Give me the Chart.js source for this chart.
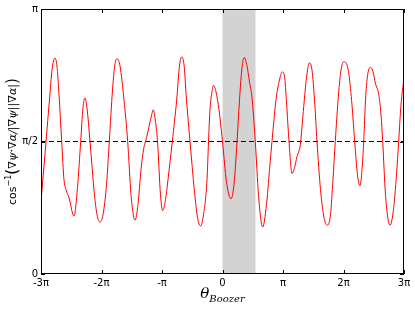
<!DOCTYPE html>
<html>
<head>
<meta charset="utf-8">
<script src="https://cdn.jsdelivr.net/npm/chart.js@4/dist/chart.umd.min.js"></script>
<style>
  html, body { margin: 0; padding: 0; background: #fff; }
  #chart { display: block; }
</style>
</head>
<body>
<canvas id="chart" width="415" height="310"></canvas>
<script>
// theta_Boozer, in units of pi
const theta = [
  -3.000, -2.917, -2.860, -2.818, -2.769, -2.736, -2.702, -2.658, -2.620, -2.587,
  -2.537, -2.455, -2.397, -2.344, -2.306, -2.273, -2.240, -2.190, -2.116, -2.074,
  -2.025, -1.975, -1.917, -1.871, -1.818, -1.777, -1.739, -1.694, -1.628, -1.567,
  -1.512, -1.446, -1.397, -1.347, -1.306, -1.256, -1.174, -1.144, -1.116, -1.074,
  -1.025, -0.988, -0.942, -0.901, -0.830, -0.757, -0.711, -0.674, -0.636, -0.595,
  -0.537, -0.466, -0.413, -0.364, -0.314, -0.256, -0.231, -0.207, -0.174, -0.149,
  -0.107, -0.058, 0.000, 0.066, 0.140, 0.190, 0.240, 0.281, 0.322, 0.360,
  0.405, 0.446, 0.488, 0.542, 0.595, 0.664, 0.727, 0.777, 0.818, 0.884,
  0.950, 0.988, 1.028, 1.066, 1.099, 1.149, 1.190, 1.231, 1.286, 1.342,
  1.388, 1.435, 1.479, 1.521, 1.562, 1.620, 1.678, 1.732, 1.785, 1.826,
  1.864, 1.917, 1.959, 2.008, 2.058, 2.091, 2.140, 2.185, 2.231, 2.273,
  2.306, 2.334, 2.364, 2.397, 2.450, 2.488, 2.526, 2.587, 2.620, 2.648,
  2.694, 2.769, 2.826, 2.876, 2.912, 2.950, 3.000
];

// arccos(grad psi . grad alpha / |grad psi||grad alpha|), in units of pi
const angle = [
  0.273, 0.500, 0.657, 0.770, 0.815, 0.785, 0.676, 0.500, 0.356, 0.318,
  0.288, 0.218, 0.326, 0.500, 0.627, 0.665, 0.627, 0.500, 0.299, 0.224,
  0.196, 0.224, 0.337, 0.500, 0.695, 0.793, 0.812, 0.785, 0.657, 0.500,
  0.299, 0.203, 0.262, 0.394, 0.469, 0.514, 0.597, 0.620, 0.589, 0.500,
  0.299, 0.239, 0.281, 0.356, 0.500, 0.657, 0.785, 0.819, 0.789, 0.657,
  0.500, 0.318, 0.213, 0.181, 0.224, 0.356, 0.500, 0.620, 0.687, 0.712,
  0.687, 0.620, 0.500, 0.348, 0.284, 0.337, 0.500, 0.657, 0.778, 0.817,
  0.785, 0.725, 0.665, 0.500, 0.299, 0.177, 0.262, 0.394, 0.500, 0.657,
  0.740, 0.763, 0.740, 0.620, 0.500, 0.379, 0.401, 0.443, 0.488, 0.631,
  0.740, 0.797, 0.770, 0.657, 0.500, 0.318, 0.213, 0.184, 0.224, 0.356,
  0.500, 0.676, 0.770, 0.801, 0.789, 0.751, 0.638, 0.500, 0.375, 0.333,
  0.394, 0.500, 0.657, 0.748, 0.780, 0.763, 0.721, 0.672, 0.601, 0.500,
  0.299, 0.184, 0.243, 0.375, 0.500, 0.638, 0.740
];

// shaded window along theta (units of pi)
const bandRange = [0, 0.545];
// dashed reference level (units of pi)
const refLevel = [0.5];

const xTickValues = [-3, -2, -1, 0, 1, 2, 3];
const xTickLabels = ['-3\u03c0', '-2\u03c0', '-\u03c0', '0', '\u03c0', '2\u03c0', '3\u03c0'];
const yTickValues = [0, 0.5, 1];
const yTickLabels = ['0', '\u03c0/2', '\u03c0'];

const shadePlugin = {
  id: 'shade',
  beforeDatasetsDraw(chart) {
    const { ctx, chartArea, scales } = chart;
    const x0 = scales.x.getPixelForValue(bandRange[0]);
    const x1 = scales.x.getPixelForValue(bandRange[1]);
    ctx.save();
    ctx.fillStyle = '#d3d3d3';
    ctx.fillRect(x0, chartArea.top, x1 - x0, chartArea.bottom - chartArea.top);
    ctx.restore();
  }
};

const framePlugin = {
  id: 'frame',
  afterDraw(chart) {
    const { ctx, chartArea, scales } = chart;
    const { left, right, top, bottom } = chartArea;
    ctx.save();
    ctx.strokeStyle = '#000';
    ctx.lineWidth = 1;
    ctx.strokeRect(left + 0.5, top + 0.5, right - left - 1, bottom - top - 1);

    // inward ticks on all four sides
    ctx.beginPath();
    xTickValues.forEach(v => {
      const px = Math.round(scales.x.getPixelForValue(v)) + 0.5;
      ctx.moveTo(px, bottom); ctx.lineTo(px, bottom - 4);
      ctx.moveTo(px, top); ctx.lineTo(px, top + 4);
    });
    yTickValues.forEach(v => {
      const py = Math.round(scales.y.getPixelForValue(v)) + 0.5;
      ctx.moveTo(left, py); ctx.lineTo(left + 4, py);
      ctx.moveTo(right, py); ctx.lineTo(right - 4, py);
    });
    ctx.stroke();

    // y axis label, rotated
    const parts = [
      { t: 'cos', f: '11px "DejaVu Sans"', dy: 0 },
      { t: '\u22121', f: '8px "DejaVu Sans"', dy: -5 },
      { t: '(', f: '15px "DejaVu Sans"', dy: 1 },
      { t: '\u2207\u03c8\u00b7\u2207\u03b1/|\u2207\u03c8||\u2207\u03b1|', f: 'italic 11px "DejaVu Serif"', dy: 0 },
      { t: ')', f: '15px "DejaVu Sans"', dy: 1 }
    ];
    let total = 0;
    parts.forEach(p => { ctx.font = p.f; p.w = ctx.measureText(p.t).width; total += p.w; });
    ctx.translate(16, (top + bottom) / 2);
    ctx.rotate(-Math.PI / 2);
    ctx.fillStyle = '#000';
    ctx.textBaseline = 'alphabetic';
    let cx = -total / 2;
    parts.forEach(p => { ctx.font = p.f; ctx.fillText(p.t, cx, p.dy); cx += p.w; });
    ctx.setTransform(1, 0, 0, 1, 0, 0);

    // x axis label: theta with subscript
    ctx.font = 'italic 15px "DejaVu Serif"';
    const wT = ctx.measureText('\u03b8').width;
    ctx.font = 'italic 10px "DejaVu Serif"';
    const wB = ctx.measureText('Boozer').width;
    const mid = (left + right) / 2;
    const sx = mid - (wT + wB) / 2;
    ctx.font = 'italic 15px "DejaVu Serif"';
    ctx.fillText('\u03b8', sx, 298);
    ctx.font = 'italic 10px "DejaVu Serif"';
    ctx.fillText('Boozer', sx + wT, 302);
    ctx.restore();
  }
};

new Chart(document.getElementById('chart'), {
  type: 'line',
  data: {
    datasets: [
      {
        data: theta.map((t, i) => ({ x: t, y: angle[i] })),
        borderColor: '#ff0000',
        borderWidth: 1,
        pointRadius: 0,
        cubicInterpolationMode: 'monotone',
        fill: false
      },
      {
        data: [{ x: xTickValues[0], y: refLevel[0] }, { x: xTickValues[xTickValues.length - 1], y: refLevel[0] }],
        borderColor: '#000',
        borderWidth: 1,
        borderDash: [5, 3],
        pointRadius: 0,
        fill: false
      }
    ]
  },
  options: {
    responsive: false,
    animation: false,
    layout: { padding: { left: 0, right: 11, top: 9, bottom: 0 } },
    plugins: {
      legend: { display: false },
      tooltip: { enabled: false }
    },
    scales: {
      x: {
        type: 'linear',
        min: -3,
        max: 3,
        grid: { display: false, drawTicks: false },
        border: { display: false },
        afterBuildTicks: (scale) => { scale.ticks = xTickValues.map(v => ({ value: v })); },
        afterFit: (scale) => { scale.height = 36; },
        ticks: {
          padding: 3,
          maxRotation: 0,
          autoSkip: false,
          color: '#000',
          font: { family: 'DejaVu Sans', size: 10 },
          callback: (v) => xTickLabels[xTickValues.indexOf(v)]
        }
      },
      y: {
        min: 0,
        max: 1,
        grid: { display: false, drawTicks: false },
        border: { display: false },
        afterBuildTicks: (scale) => { scale.ticks = yTickValues.map(v => ({ value: v })); },
        afterFit: (scale) => { scale.width = 41; },
        ticks: {
          padding: 3,
          autoSkip: false,
          color: '#000',
          font: { family: 'DejaVu Sans', size: 10 },
          callback: (v) => yTickLabels[yTickValues.indexOf(v)]
        }
      }
    }
  },
  plugins: [shadePlugin, framePlugin]
});
</script>
</body>
</html>
